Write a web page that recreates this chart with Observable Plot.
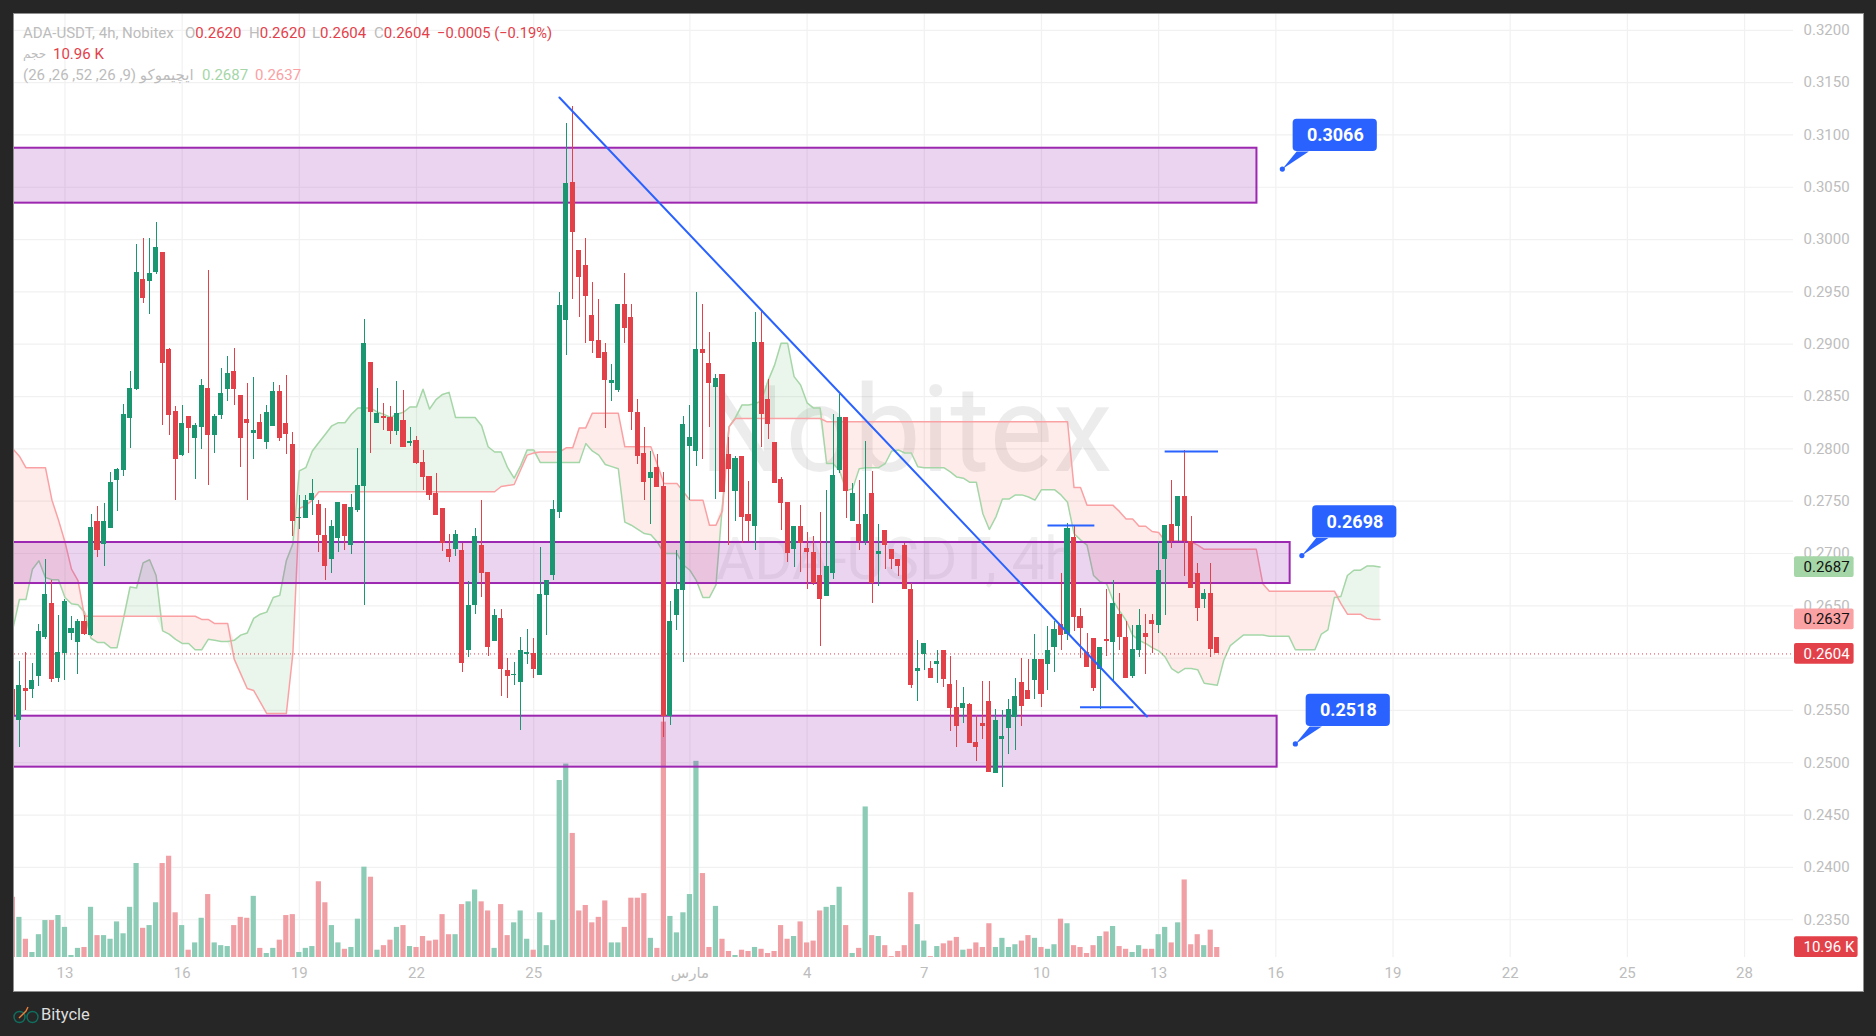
<!DOCTYPE html>
<html>
<head>
<meta charset="utf-8">
<script src="https://cdn.jsdelivr.net/npm/d3@7"></script>
<script src="https://cdn.jsdelivr.net/npm/@observablehq/plot@0.6"></script>
<style>
html,body{margin:0;padding:0;width:1876px;height:1036px;overflow:hidden;background:#262626;font-family:Roboto,"DejaVu Sans",sans-serif}
#panel{position:absolute;left:13px;top:13px;width:1849px;height:977px;background:#fff;border:1px solid #8f8f8f;box-sizing:content-box}
#chart{position:absolute;left:0;top:0}
.lg{position:absolute;font-size:15px;line-height:20px;white-space:nowrap;color:#bcbcbc}
.r{color:#e3414a}.g{color:#a5d6a7}.p{color:#faa1a4}
#foot{position:absolute;left:41px;top:1004px;font-size:16.5px;color:#dedede;line-height:22px}
#logo{position:absolute;left:13px;top:1005px}
</style>
</head>
<body>
<div id="panel"></div>
<div id="chart"></div>
<div class="lg" style="left:23px;top:23px">ADA-USDT, 4h, Nobitex</div>
<div class="lg" style="left:185px;top:23px">O<span class="r">0.2620</span></div>
<div class="lg" style="left:249px;top:23px">H<span class="r">0.2620</span></div>
<div class="lg" style="left:312px;top:23px">L<span class="r">0.2604</span></div>
<div class="lg" style="left:374px;top:23px">C<span class="r">0.2604</span></div>
<div class="lg r" style="left:437px;top:23px;font-size:14.7px">−0.0005 (−0.19%)</div>
<div class="lg" style="left:23px;top:44px;font-size:12px">حجم</div>
<div class="lg r" style="left:53px;top:44px">10.96 K</div>
<div class="lg" style="left:23px;top:65px" dir="rtl">ایچیموکو (9, 26, 52, 26, 26)</div>
<div class="lg g" style="left:202px;top:65px">0.2687</div>
<div class="lg p" style="left:255px;top:65px">0.2637</div>
<svg id="logo" width="26" height="20" viewBox="0 0 26 20"><circle cx="6.5" cy="12" r="5.5" fill="none" stroke="#0f6f5f" stroke-width="1.4"/><circle cx="19.5" cy="12" r="5.5" fill="none" stroke="#0f6f5f" stroke-width="1.4"/><path d="M6 13 L13 6 L15 2" fill="none" stroke="#e8813a" stroke-width="1.4"/></svg>
<div id="foot">Bitycle</div>
<script>
// Prices below are in ten-thousandths (2620 = 0.2620). First entry is the bar clipped at the left edge.
const firstBar = -1;
const open = [
2570,2540,2571,2570,2582,2620,2652,2581,2604,2624,2615,
2635,2622,2731,2709,2724,2770,2779,2829,2857,2962,
2960,2969,2988,2895,2836,2794,2831,2810,2820,2858,
2813,2832,2857,2874,2851,2828,2815,2825,2806,2821,
2855,2824,2804,2733,2733,2751,2747,2717,2694,2714,
2747,2708,2741,2764,2883,2824,2831,2830,2817,2827,
2805,2808,2787,2774,2757,2743,2704,2704,2703,2607,
2650,2708,2682,2616,2638,2588,2583,2577,2603,2604,
2583,2660,2679,2739,2923,3055,2990,2975,2927,2904,
2892,2862,2856,2938,2926,2835,2796,2772,2782,2764,
2544,2641,2665,2802,2797,2895,2882,2859,2871,2795,
2759,2793,2737,2726,2902,2847,2806,2771,2749,2704,
2726,2705,2701,2679,2659,2681,2779,2830,2731,2728,
2711,2757,2699,2722,2704,2694,2708,2666,2587,2603,
2590,2594,2607,2575,2553,2552,2556,2519,2538,2559,
2490,2522,2533,2543,2577,2569,2579,2599,2594,2610,
2632,2623,2715,2640,2605,2619,2589,2618,2615,2642,
2620,2582,2607,2624,2636,2631,2694,2728,2726,2754,
2711,2681,2656,2662,2620];
const high = [
2575,2597,2605,2595,2632,2694,2674,2641,2656,2640,2637,
2641,2737,2745,2748,2777,2781,2842,2874,2995,3001,
3001,3016,2988,2896,2840,2841,2831,2824,2866,2970,
2833,2877,2888,2896,2851,2862,2868,2833,2841,2863,
2861,2870,2816,2755,2755,2771,2751,2743,2732,2749,
2747,2756,2800,2924,2883,2858,2843,2840,2864,2856,
2820,2812,2798,2774,2776,2743,2718,2722,2710,2673,
2724,2751,2682,2646,2646,2600,2596,2620,2627,2619,
2706,2674,2751,2949,3111,3127,2990,3001,2959,2943,
2901,2881,2938,2968,2938,2847,2820,2797,2795,2777,
2654,2703,2831,2841,2949,2938,2911,2871,2871,2811,
2793,2793,2769,2930,2931,2866,2806,2773,2749,2726,
2746,2720,2716,2739,2760,2833,2852,2830,2767,2770,
2807,2778,2728,2722,2704,2694,2710,2671,2617,2614,
2597,2607,2607,2602,2579,2572,2557,2545,2578,2578,
2551,2550,2560,2581,2600,2599,2623,2599,2630,2635,
2681,2729,2727,2647,2624,2619,2610,2666,2674,2662,
2635,2631,2646,2642,2642,2711,2727,2770,2754,2798,
2735,2690,2666,2690,2620];
const low = [
2540,2515,2550,2561,2573,2618,2577,2577,2579,2617,2584,
2622,2621,2696,2688,2724,2740,2774,2800,2856,2939,
2928,2967,2822,2813,2751,2793,2796,2771,2799,2765,
2796,2828,2845,2841,2782,2751,2790,2809,2799,2821,
2807,2795,2716,2723,2733,2736,2701,2674,2681,2701,
2703,2699,2739,2650,2796,2824,2818,2804,2813,2801,
2802,2785,2760,2751,2736,2702,2691,2697,2586,2601,
2642,2658,2602,2616,2563,2561,2574,2531,2594,2581,
2583,2622,2674,2733,2889,2943,2926,2901,2891,2886,
2819,2845,2854,2901,2818,2785,2751,2728,2763,2524,
2536,2626,2596,2751,2783,2790,2820,2752,2758,2708,
2731,2710,2711,2703,2801,2809,2767,2722,2691,2687,
2682,2666,2669,2611,2659,2675,2776,2733,2731,2703,
2708,2652,2668,2685,2685,2678,2666,2571,2559,2588,
2581,2576,2572,2530,2515,2538,2518,2501,2522,2491,
2490,2476,2508,2512,2535,2560,2560,2553,2569,2586,
2607,2617,2625,2600,2591,2568,2551,2602,2578,2607,
2581,2581,2601,2584,2604,2624,2641,2705,2711,2678,
2667,2635,2647,2601,2604];
const close = [
2545,2574,2568,2579,2625,2661,2580,2605,2654,2628,2635,
2623,2725,2703,2731,2768,2780,2833,2858,2969,2944,
2968,2992,2882,2832,2790,2824,2819,2822,2861,2813,
2831,2853,2872,2857,2810,2824,2818,2809,2835,2855,
2810,2814,2731,2734,2751,2757,2717,2688,2726,2749,
2716,2744,2765,2901,2835,2834,2829,2817,2834,2801,
2807,2786,2773,2755,2736,2710,2696,2718,2595,2650,
2716,2681,2610,2641,2589,2582,2584,2607,2605,2589,
2661,2674,2742,2937,3054,3007,2964,2946,2903,2886,
2865,2865,2938,2915,2835,2793,2768,2777,2763,2544,
2635,2666,2823,2811,2895,2891,2862,2867,2758,2780,
2791,2734,2731,2902,2833,2823,2767,2748,2700,2726,
2710,2701,2671,2656,2688,2775,2830,2759,2757,2711,
2737,2671,2702,2708,2694,2688,2666,2574,2590,2614,
2581,2597,2580,2552,2535,2557,2518,2515,2535,2491,
2540,2525,2551,2563,2554,2560,2599,2565,2607,2627,
2622,2724,2639,2628,2591,2571,2610,2616,2652,2620,
2581,2608,2631,2620,2632,2684,2727,2711,2754,2711,
2667,2647,2662,2608,2604];
// Volume, thousands
const volume = [
66,44,20,5.5,25,40.5,40.5,46,33,2.2,10,
11,55,24,24,20,39,26,55,103,32,
35,60,103,111,49,35,8,16,43,69,
16,13,12,35,44,43,67,10,4.4,10,
19,46,47,5.5,10,12,83,60,35,16,
9,11,42,99,88,8,13,19,33,35,
12,11,23,18,19,47,25,25,58,61,
74,61,51,10,58,24,38,51,20,8,
49,13,40.5,194,212,136,51,57,38,44,
62,16,16,33,65,65,70,21,10,258,
45,27,49,69,215,92,11,56,20,6.6,
2.2,8,6.6,11,9,4.4,6.6,35,20,23,
39,16,18,51,55,57,77,35,4.4,10,
165,24,23,13,1,6.6,13,71,36,18,
1,12,15,18,22,8,9,16,11,37,
11,21,11,14,18,24,21,11,9,14,
42,37,13,11,4.4,13,23,28,34,12,
9,5.5,13,9,9,25,33,16,38,85,
14,25,13,30,10.96];
// Ichimoku leading spans, bars -1 .. 209
const spanA = [
2628,2656,2656,2685,2693,2677,2675,2675,2658,2652,2651,
2644,2619,2615,2615,2610,2610,2638,2668,2667,2691,
2694,2679,2626,2623,2618,2614,2614,2608,2608,2618,
2617,2616,2616,2617,2622,2624,2638,2642,2644,2658,
2660,2693,2709,2779,2782,2798,2806,2814,2822,2825,
2825,2833,2839,2839,2839,2835,2833,2830,2833,2835,
2840,2840,2857,2838,2847,2852,2854,2830,2830,2830,
2830,2822,2802,2797,2797,2782,2772,2784,2799,2799,
2787,2787,2787,2787,2787,2787,2787,2805,2798,2794,
2785,2783,2781,2730,2727,2723,2719,2718,2711,2700,
2700,2700,2689,2684,2674,2658,2658,2670,2747,2821,
2830,2842,2842,2843,2846,2865,2880,2901,2901,2869,
2861,2844,2839,2839,2786,2786,2779,2760,2762,2781,
2782,2782,2782,2786,2798,2799,2796,2796,2783,2782,
2782,2782,2782,2778,2773,2772,2768,2768,2738,2723,
2735,2752,2752,2756,2756,2754,2751,2761,2761,2761,
2756,2749,2719,2713,2708,2679,2673,2671,2655,2645,
2636,2622,2617,2614,2610,2607,2601,2590,2586,2590,
2590,2589,2576,2575,2574,2598,2612,2617,2622,2622,
2622,2622,2621,2621,2621,2621,2608,2608,2608,2608,
2623,2627,2658,2659,2679,2684,2684,2688,2688,2687];
const spanB = [
2800,2793,2782,2782,2782,2782,2751,2732,2711,2685,2674,
2640,2640,2640,2640,2640,2640,2640,2640,2640,2640,
2640,2640,2640,2640,2640,2640,2640,2640,2637,2637,
2633,2633,2633,2599,2585,2571,2569,2558,2547,2547,
2547,2547,2604,2743,2746,2751,2759,2759,2759,2759,
2759,2759,2759,2759,2759,2759,2759,2759,2759,2759,
2759,2759,2759,2759,2759,2759,2759,2759,2759,2759,
2759,2759,2759,2759,2764,2765,2766,2780,2794,2796,
2797,2797,2797,2797,2801,2801,2820,2820,2834,2834,
2834,2834,2834,2802,2802,2802,2802,2802,2785,2767,
2767,2767,2759,2751,2751,2751,2727,2727,2741,2821,
2829,2829,2829,2829,2829,2829,2829,2829,2829,2829,
2829,2829,2829,2829,2826,2826,2826,2826,2826,2826,
2826,2826,2826,2826,2826,2826,2826,2826,2826,2826,
2826,2826,2826,2826,2826,2826,2826,2826,2826,2826,
2826,2826,2826,2826,2826,2826,2826,2826,2826,2826,
2826,2826,2763,2763,2746,2746,2746,2746,2746,2740,
2733,2733,2726,2726,2721,2720,2712,2712,2712,2712,
2711,2708,2704,2704,2704,2704,2704,2704,2704,2704,
2704,2671,2664,2664,2664,2664,2664,2664,2664,2664,
2664,2664,2664,2652,2642,2642,2642,2638,2637,2637];

const priceTicks = [2350,2400,2450,2500,2550,2600,2650,2700,2750,2800,2850,2900,2950,3000,3050,3100,3150,3200];
const dayBars   = [7,25,43,61,79,103,121,139,157,175,193,211,229,247,265];
const dayLabels = ["13","16","19","22","25","مارس","4","7","10","13","16","19","22","25","28"];

const zones = [
  {from:-5, to:190.1, top:3087.3, bottom:3034.8},
  {from:-5, to:195.2, top:2710.5, bottom:2671.3},
  {from:-5, to:193.2, top:2544.5, bottom:2495.8}];
const trend = [{i:82.95,p:3135.8},{i:173.2,p:2544.2}];
const levels = [{a:158,b:165.2,p:2726.8},{a:176,b:184.2,p:2797.5},{a:163,b:171.2,p:2553}];
const callouts = [{label:"0.3066",i:194,p:3067.4},{label:"0.2698",i:197,p:2698},{label:"0.2518",i:196,p:2518}];
const lastTags = [
  {label:"0.2687",p:2687,fill:"#a5d6a7",text:"#111"},
  {label:"0.2637",p:2637,fill:"#faa1a4",text:"#111"},
  {label:"0.2604",p:2604,fill:"#e3414a",text:"#fff"}];

const pr = v => v/1e4;
const W=1876,H=1036,ML=14,MR=83,MT=14,MB=79;
const BAR=6.51, PXP=10464;                // px per bar, px per price unit
const xPx = px => (px-18.9)/BAR;          // helper for offsets given in px
const pxP = px => px/PXP;
const dBar = px => px/BAR;
const yLow=0.23139, yHigh=0.32151;

const bars = open.map((o,k)=>({i:k+firstBar,o:pr(o),h:pr(high[k]),l:pr(low[k]),c:pr(close[k]),v:volume[k],up:close[k]>=o}));
const cloud = spanA.map((a,k)=>({i:k+firstBar,a:pr(a),b:pr(spanB[k])}));
const UP="#1a9770",DN="#e3414a";
const col = d=>d.up?UP:DN;
const volK = 1/1.096/PXP;
const GRID="#f1f1f1", BLUE="#2962ff", PURPLE="#9c27b0", AX="#bdbdbd";

const tails = callouts.flatMap(c=>[
  {k:c.label,i:c.i,p:pr(c.p)},
  {k:c.label,i:c.i+dBar(14.3),p:pr(c.p)+pxP(17.5)},
  {k:c.label,i:c.i+dBar(26.5),p:pr(c.p)+pxP(17.5)}]);

const plot = Plot.plot({
  width:W,height:H,marginLeft:ML,marginRight:MR,marginTop:MT,marginBottom:MB,
  style:{background:"transparent",fontFamily:'Roboto,"DejaVu Sans",sans-serif',fontSize:"15px",overflow:"visible"},
  x:{type:"linear",domain:[xPx(ML),xPx(W-MR)]},
  y:{type:"linear",domain:[yLow,yHigh]},
  marks:[
    Plot.ruleY(priceTicks,{y:pr,stroke:GRID,strokeWidth:1.2}),
    Plot.ruleX(dayBars,{x:d=>d,stroke:GRID,strokeWidth:1.2}),
    Plot.text(["Nobitex"],{x:()=>136.2,y:()=>0.27793,text:d=>d,fontSize:120,fill:"#000",fillOpacity:0.075,textAnchor:"middle",lineAnchor:"bottom"}),
    Plot.text(["ADA-USDT, 4h"],{x:()=>134.7,y:()=>0.26761,text:d=>d,fontSize:58.5,fill:"#000",fillOpacity:0.06,textAnchor:"middle",lineAnchor:"bottom"}),
    // Ichimoku cloud
    Plot.areaY(cloud,{x:"i",y1:"a",y2:d=>Math.min(d.a,d.b),fill:"#43a047",fillOpacity:0.11,clip:true}),
    Plot.areaY(cloud,{x:"i",y1:"a",y2:d=>Math.max(d.a,d.b),fill:"#f44336",fillOpacity:0.1,clip:true}),
    Plot.line(cloud,{x:"i",y:"a",stroke:"#a5d6a7",strokeWidth:1.5,clip:true}),
    Plot.line(cloud,{x:"i",y:"b",stroke:"#faa1a4",strokeWidth:1.5,clip:true}),
    // Volume
    Plot.rect(bars,{x1:d=>d.i-0.4,x2:d=>d.i+0.4,y1:()=>yLow,y2:d=>yLow+d.v*volK,fill:d=>d.up?"#8ccbb6":"#f0a0a5",clip:true}),
    // Zones
    Plot.rect(zones,{x1:"from",x2:"to",y1:d=>pr(d.bottom),y2:d=>pr(d.top),fill:PURPLE,fillOpacity:0.2,stroke:PURPLE,strokeWidth:2,clip:true}),
    // Last price
    Plot.ruleY([2604],{y:pr,stroke:DN,strokeWidth:1,strokeDasharray:"1 3"}),
    // Candles
    Plot.ruleX(bars,{x:"i",y1:"l",y2:"h",stroke:col,strokeWidth:1,shapeRendering:"crispEdges",clip:true}),
    Plot.rect(bars,{x1:d=>d.i-0.39,x2:d=>d.i+0.39,y1:"o",y2:"c",fill:col,shapeRendering:"crispEdges",clip:true}),
    // Drawings
    Plot.line(trend,{x:"i",y:d=>pr(d.p),stroke:BLUE,strokeWidth:2}),
    Plot.ruleY(levels,{x1:"a",x2:"b",y:d=>pr(d.p),stroke:BLUE,strokeWidth:2}),
    Plot.line(tails,{x:"i",y:"p",z:"k",fill:BLUE,stroke:"none"}),
    Plot.dot(callouts,{x:"i",y:d=>pr(d.p),r:2.6,fill:BLUE}),
    Plot.rect(callouts,{x1:d=>d.i+dBar(10.8),x2:d=>d.i+dBar(95),y1:d=>pr(d.p)+pxP(17.5),y2:d=>pr(d.p)+pxP(49.8),fill:BLUE,rx:4}),
    Plot.text(callouts,{x:d=>d.i+dBar(53),y:d=>pr(d.p)+pxP(33.6),text:"label",fill:"#fff",fontSize:18,fontWeight:"bold"}),
    // Axes
    Plot.axisY({anchor:"right",ticks:priceTicks.map(pr),tickFormat:d=>d.toFixed(4),tickSize:0,tickPadding:10,fill:AX,label:null,fontSize:15}),
    Plot.axisX({anchor:"bottom",ticks:dayBars,tickFormat:d=>dayLabels[dayBars.indexOf(d)],tickSize:0,tickPadding:10,fill:AX,label:null,fontSize:15}),
    // Price-scale tags
    Plot.rect(lastTags,{x1:()=>xPx(1794),x2:()=>xPx(1853.6),y1:d=>pr(d.p)-pxP(10.4),y2:d=>pr(d.p)+pxP(10.4),fill:"fill",rx:2}),
    Plot.text(lastTags,{x:()=>xPx(1803),y:d=>pr(d.p),text:"label",fill:"text",textAnchor:"start",fontSize:15}),
    Plot.rect(["10.96 K"],{x1:()=>xPx(1794),x2:()=>xPx(1857.6),y1:()=>yLow,y2:()=>yLow+pxP(20.7),fill:DN,rx:2}),
    Plot.text(["10.96 K"],{x:()=>xPx(1803),y:()=>yLow+pxP(10.3),text:d=>d,fill:"#fff",textAnchor:"start",fontSize:15})
  ]
});
document.getElementById("chart").appendChild(plot);
</script>
</body>
</html>
